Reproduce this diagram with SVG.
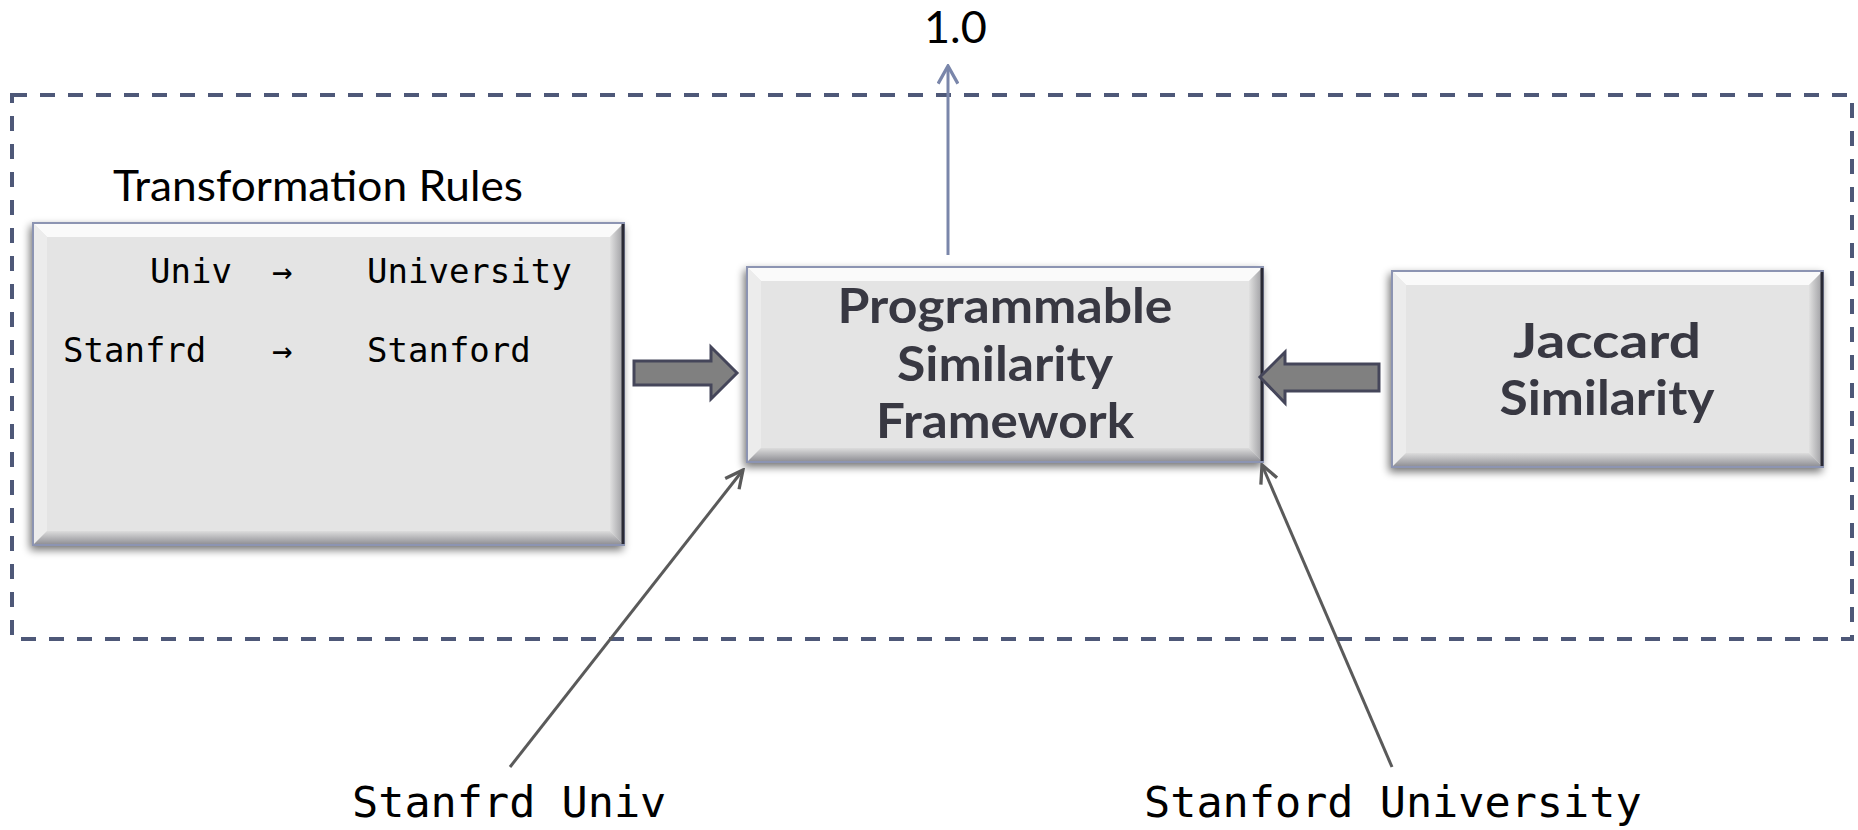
<svg xmlns="http://www.w3.org/2000/svg" width="1858" height="830" viewBox="0 0 1858 830">
<style>
.title{font-family:"Lato","Open Sans",sans-serif;font-size:42px;fill:#000}
.bold{font-family:"Lato","Open Sans",sans-serif;font-weight:bold;font-size:48px;fill:#383842;text-anchor:middle}
.mono{font-family:"DejaVu Sans Mono","Liberation Mono",monospace;font-size:34px;fill:#000}
.monob{font-family:"DejaVu Sans Mono","Liberation Mono",monospace;font-size:43.5px;fill:#000}
.face{fill:#e4e4e4}
.btop{fill:#fafafa}
.bleft{fill:#ececec}
.bright{fill:url(#gr)}
.bbot{fill:url(#gb)}
.edge{fill:none;stroke:#8c94b2;stroke-width:2}
.rdark{stroke:#2c2c36;stroke-width:3}
.block{fill:#808080;stroke:#45465a;stroke-width:3;stroke-linejoin:miter}
</style>
<defs>
<filter id="sh" x="-10%" y="-10%" width="120%" height="130%">
<feGaussianBlur in="SourceAlpha" stdDeviation="4"/>
<feOffset dx="-2" dy="4" result="o"/>
<feComponentTransfer><feFuncA type="linear" slope="0.55"/></feComponentTransfer>
<feMerge><feMergeNode/><feMergeNode in="SourceGraphic"/></feMerge>
</filter>
<linearGradient id="gr" x1="0" y1="0" x2="1" y2="0"><stop offset="0" stop-color="#e0e0e0"/><stop offset="1" stop-color="#9a9a9e"/></linearGradient>
<linearGradient id="gb" x1="0" y1="0" x2="0" y2="1"><stop offset="0" stop-color="#dcdcdc"/><stop offset="1" stop-color="#8c8c92"/></linearGradient>
<marker id="ahb" viewBox="0 0 20 20" refX="18" refY="10" markerWidth="22" markerHeight="22" markerUnits="userSpaceOnUse" orient="auto">
<path d="M2,1 L18,10 L2,19" fill="none" stroke="#7a86aa" stroke-width="3"/>
</marker>
<marker id="ahg" viewBox="0 0 20 20" refX="18" refY="10" markerWidth="22" markerHeight="22" markerUnits="userSpaceOnUse" orient="auto">
<path d="M2,2 L18,10 L2,18" fill="none" stroke="#5a5a5a" stroke-width="3"/>
</marker>
</defs>
<rect width="1858" height="830" fill="#fff"/>

<g id="frame">
<rect x="12" y="95" width="1840" height="544" fill="none" stroke="#4e5878" stroke-width="4" stroke-dasharray="15 13"/>
</g>

<g id="rules">
<text class="title" x="113" y="201" textLength="410" lengthAdjust="spacingAndGlyphs">Transformation Rules</text>
<g filter="url(#sh)">
<rect class="face" x="33" y="223" width="591" height="322"/>
<polygon class="btop" points="33,223 624,223 610,237 47,237"/>
<polygon class="bleft" points="33,223 47,237 47,531 33,545"/>
<polygon class="bright" points="624,223 624,545 610,531 610,237"/>
<polygon class="bbot" points="33,545 624,545 610,531 47,531"/>
<rect class="edge" x="33" y="223" width="591" height="322"/>
<line class="rdark" x1="623" y1="224" x2="623" y2="544"/>
</g>
<text class="mono" x="150" y="283">Univ</text>
<text class="mono" x="272" y="283">→</text>
<text class="mono" x="367" y="283">University</text>
<text class="mono" x="63" y="362">Stanfrd</text>
<text class="mono" x="272" y="362">→</text>
<text class="mono" x="367" y="362">Stanford</text>
</g>

<g id="psf">
<g filter="url(#sh)">
<rect class="face" x="747" y="267" width="516" height="195"/>
<polygon class="btop" points="747,267 1263,267 1249,281 761,281"/>
<polygon class="bleft" points="747,267 761,281 761,448 747,462"/>
<polygon class="bright" points="1263,267 1263,462 1249,448 1249,281"/>
<polygon class="bbot" points="747,462 1263,462 1249,448 761,448"/>
<rect class="edge" x="747" y="267" width="516" height="195"/>
<line class="rdark" x1="1262" y1="268" x2="1262" y2="461"/>
</g>
<text class="bold" x="1005" y="323" textLength="335" lengthAdjust="spacingAndGlyphs">Programmable</text>
<text class="bold" x="1005" y="381" textLength="216" lengthAdjust="spacingAndGlyphs">Similarity</text>
<text class="bold" x="1005" y="438" textLength="258" lengthAdjust="spacingAndGlyphs">Framework</text>
</g>

<g id="jaccard">
<g filter="url(#sh)">
<rect class="face" x="1392" y="271" width="431" height="196"/>
<polygon class="btop" points="1392,271 1823,271 1809,285 1406,285"/>
<polygon class="bleft" points="1392,271 1406,285 1406,453 1392,467"/>
<polygon class="bright" points="1823,271 1823,467 1809,453 1809,285"/>
<polygon class="bbot" points="1392,467 1823,467 1809,453 1406,453"/>
<rect class="edge" x="1392" y="271" width="431" height="196"/>
<line class="rdark" x1="1822" y1="272" x2="1822" y2="466"/>
</g>
<text class="bold" x="1607" y="358" textLength="188" lengthAdjust="spacingAndGlyphs">Jaccard</text>
<text class="bold" x="1607" y="415" textLength="215" lengthAdjust="spacingAndGlyphs">Similarity</text>
</g>

<g id="labels">
<text x="924" y="43" font-family="Lato,'Open Sans',sans-serif" font-size="45" fill="#000">1.0</text>
<text class="monob" x="352" y="817">Stanfrd Univ</text>
<text class="monob" x="1144" y="817">Stanford University</text>
</g>

<g id="connectors">
<line x1="948" y1="255" x2="948" y2="66" stroke="#7a86aa" stroke-width="3" marker-end="url(#ahb)"/>
<polygon class="block" points="634,361 711,361 711,347 737,373 711,399 711,385 634,385"/>
<polygon class="block" points="1379,364 1285,364 1285,352 1260,377 1285,403 1285,391 1379,391"/>
<line x1="510" y1="767" x2="743" y2="470" stroke="#5a5a5a" stroke-width="3" marker-end="url(#ahg)"/>
<line x1="1392" y1="767" x2="1262" y2="465" stroke="#5a5a5a" stroke-width="3" marker-end="url(#ahg)"/>
</g>
</svg>
